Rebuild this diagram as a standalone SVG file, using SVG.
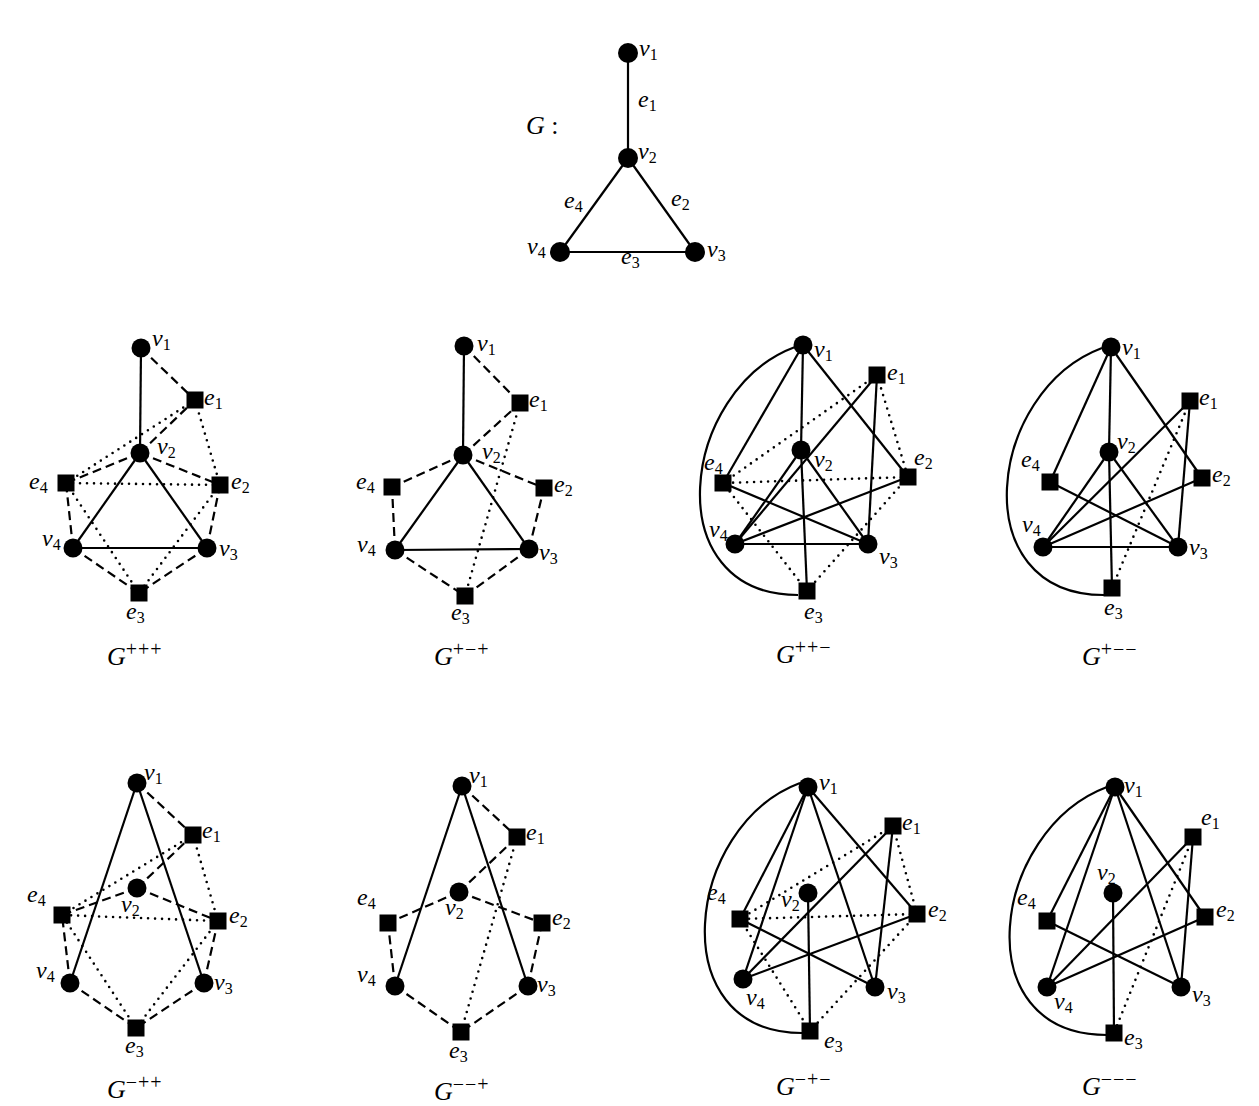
<svg xmlns="http://www.w3.org/2000/svg" width="1259" height="1106" viewBox="0 0 1259 1106">
<style>
text{font-family:"Liberation Serif","DejaVu Serif",serif;font-style:italic;fill:#000}
.lb{font-size:24px}
.sub{font-size:16px;font-style:normal}
.cap{font-size:26px}
.sup{font-size:20px;font-style:normal;letter-spacing:1px}
.s{stroke:#000;stroke-width:2.2;fill:none}
.d{stroke:#000;stroke-width:2.2;stroke-dasharray:9 5;fill:none}
.t{stroke:#000;stroke-width:2.6;stroke-dasharray:0 7;stroke-linecap:round;fill:none}
circle,rect{fill:#000}
</style>
<rect x="0" y="0" width="1259" height="1106" style="fill:#fff"/>

<g id="G-connectors">
<line class="s" x1="628" y1="53" x2="628" y2="158"/>
<line class="s" x1="628" y1="158" x2="695" y2="252"/>
<line class="s" x1="628" y1="158" x2="560" y2="252"/>
<line class="s" x1="560" y1="252" x2="695" y2="252"/>
</g>
<g id="G-title"><text class="cap" x="526" y="134">G <tspan font-style="normal">:</tspan></text></g>
<g id="G-edge-labels">
<text class="lb" x="638" y="107">e<tspan class="sub" dy="3.5">1</tspan></text>
<text class="lb" x="671" y="206">e<tspan class="sub" dy="3.5">2</tspan></text>
<text class="lb" x="621" y="264">e<tspan class="sub" dy="3.5">3</tspan></text>
<text class="lb" x="564" y="208">e<tspan class="sub" dy="3.5">4</tspan></text>
</g>
<g id="G-v1"><circle cx="628" cy="53" r="10"/><text class="lb" x="639" y="56">v<tspan class="sub" dy="3.5">1</tspan></text></g>
<g id="G-v2"><circle cx="628" cy="158" r="10"/><text class="lb" x="638" y="159">v<tspan class="sub" dy="3.5">2</tspan></text></g>
<g id="G-v3"><circle cx="695" cy="252" r="10"/><text class="lb" x="707" y="257">v<tspan class="sub" dy="3.5">3</tspan></text></g>
<g id="G-v4"><circle cx="560" cy="252" r="10"/><text class="lb" x="527" y="254">v<tspan class="sub" dy="3.5">4</tspan></text></g>

<g id="A1-connectors">
<line class="s" x1="141" y1="348" x2="140" y2="453"/>
<line class="s" x1="140" y1="453" x2="207" y2="548"/>
<line class="s" x1="140" y1="453" x2="73" y2="548"/>
<line class="s" x1="73" y1="548" x2="207" y2="548"/>
<line class="d" x1="141" y1="348" x2="195" y2="400"/>
<line class="d" x1="140" y1="453" x2="195" y2="400"/>
<line class="d" x1="140" y1="453" x2="220" y2="485"/>
<line class="d" x1="140" y1="453" x2="66" y2="483"/>
<line class="d" x1="207" y1="548" x2="220" y2="485"/>
<line class="d" x1="207" y1="548" x2="139" y2="593"/>
<line class="d" x1="73" y1="548" x2="139" y2="593"/>
<line class="d" x1="73" y1="548" x2="66" y2="483"/>
<line class="t" x1="195" y1="400" x2="220" y2="485"/>
<line class="t" x1="195" y1="400" x2="66" y2="483"/>
<line class="t" x1="220" y1="485" x2="66" y2="483"/>
<line class="t" x1="220" y1="485" x2="139" y2="593"/>
<line class="t" x1="139" y1="593" x2="66" y2="483"/>
</g>
<g id="A1-v1"><circle cx="141" cy="348" r="9.5"/><text class="lb" x="152" y="346">v<tspan class="sub" dy="3.5">1</tspan></text></g>
<g id="A1-v2"><circle cx="140" cy="453" r="9.5"/><text class="lb" x="157" y="454">v<tspan class="sub" dy="3.5">2</tspan></text></g>
<g id="A1-v3"><circle cx="207" cy="548" r="9.5"/><text class="lb" x="219" y="556">v<tspan class="sub" dy="3.5">3</tspan></text></g>
<g id="A1-v4"><circle cx="73" cy="548" r="9.5"/><text class="lb" x="42" y="546">v<tspan class="sub" dy="3.5">4</tspan></text></g>
<g id="A1-e1"><rect x="186.5" y="391.5" width="17" height="17"/><text class="lb" x="204" y="405">e<tspan class="sub" dy="3.5">1</tspan></text></g>
<g id="A1-e2"><rect x="211.5" y="476.5" width="17" height="17"/><text class="lb" x="231" y="489">e<tspan class="sub" dy="3.5">2</tspan></text></g>
<g id="A1-e3"><rect x="130.5" y="584.5" width="17" height="17"/><text class="lb" x="126" y="619">e<tspan class="sub" dy="3.5">3</tspan></text></g>
<g id="A1-e4"><rect x="57.5" y="474.5" width="17" height="17"/><text class="lb" x="29" y="489">e<tspan class="sub" dy="3.5">4</tspan></text></g>
<g id="A1-caption"><text class="cap" x="107" y="665">G<tspan class="sup" dy="-9">+++</tspan></text></g>

<g id="A2-connectors">
<line class="s" x1="464" y1="346" x2="463" y2="455"/>
<line class="s" x1="463" y1="455" x2="529" y2="549"/>
<line class="s" x1="463" y1="455" x2="395" y2="550"/>
<line class="s" x1="395" y1="550" x2="529" y2="549"/>
<line class="d" x1="464" y1="346" x2="520" y2="403"/>
<line class="d" x1="463" y1="455" x2="520" y2="403"/>
<line class="d" x1="463" y1="455" x2="544" y2="488"/>
<line class="d" x1="463" y1="455" x2="392" y2="487"/>
<line class="d" x1="529" y1="549" x2="544" y2="488"/>
<line class="d" x1="529" y1="549" x2="465" y2="596"/>
<line class="d" x1="395" y1="550" x2="465" y2="596"/>
<line class="d" x1="395" y1="550" x2="392" y2="487"/>
<line class="t" x1="520" y1="403" x2="465" y2="596"/>
</g>
<g id="A2-v1"><circle cx="464" cy="346" r="9.5"/><text class="lb" x="477" y="351">v<tspan class="sub" dy="3.5">1</tspan></text></g>
<g id="A2-v2"><circle cx="463" cy="455" r="9.5"/><text class="lb" x="482" y="459">v<tspan class="sub" dy="3.5">2</tspan></text></g>
<g id="A2-v3"><circle cx="529" cy="549" r="9.5"/><text class="lb" x="539" y="560">v<tspan class="sub" dy="3.5">3</tspan></text></g>
<g id="A2-v4"><circle cx="395" cy="550" r="9.5"/><text class="lb" x="357" y="552">v<tspan class="sub" dy="3.5">4</tspan></text></g>
<g id="A2-e1"><rect x="511.5" y="394.5" width="17" height="17"/><text class="lb" x="529" y="407">e<tspan class="sub" dy="3.5">1</tspan></text></g>
<g id="A2-e2"><rect x="535.5" y="479.5" width="17" height="17"/><text class="lb" x="554" y="492">e<tspan class="sub" dy="3.5">2</tspan></text></g>
<g id="A2-e3"><rect x="456.5" y="587.5" width="17" height="17"/><text class="lb" x="451" y="620">e<tspan class="sub" dy="3.5">3</tspan></text></g>
<g id="A2-e4"><rect x="383.5" y="478.5" width="17" height="17"/><text class="lb" x="356" y="489">e<tspan class="sub" dy="3.5">4</tspan></text></g>
<g id="A2-caption"><text class="cap" x="434" y="665">G<tspan class="sup" dy="-9">+−+</tspan></text></g>

<g id="A3-connectors">
<line class="s" x1="803" y1="345" x2="801" y2="450"/>
<line class="s" x1="801" y1="450" x2="868" y2="544"/>
<line class="s" x1="801" y1="450" x2="735" y2="544"/>
<line class="s" x1="735" y1="544" x2="868" y2="544"/>
<line class="s" x1="803" y1="345" x2="908" y2="477"/>
<line class="s" x1="803" y1="345" x2="723" y2="483"/>
<line class="s" x1="801" y1="450" x2="807" y2="591"/>
<line class="s" x1="868" y1="544" x2="877" y2="375"/>
<line class="s" x1="868" y1="544" x2="723" y2="483"/>
<line class="s" x1="735" y1="544" x2="877" y2="375"/>
<line class="s" x1="735" y1="544" x2="908" y2="477"/>
<path class="s" d="M795,347 C680,390 656,595 798,595"/>
<line class="t" x1="877" y1="375" x2="908" y2="477"/>
<line class="t" x1="877" y1="375" x2="723" y2="483"/>
<line class="t" x1="908" y1="477" x2="723" y2="483"/>
<line class="t" x1="908" y1="477" x2="807" y2="591"/>
<line class="t" x1="807" y1="591" x2="723" y2="483"/>
</g>
<g id="A3-v1"><circle cx="803" cy="345" r="9.5"/><text class="lb" x="814" y="357">v<tspan class="sub" dy="3.5">1</tspan></text></g>
<g id="A3-v2"><circle cx="801" cy="450" r="9.5"/><text class="lb" x="814" y="467">v<tspan class="sub" dy="3.5">2</tspan></text></g>
<g id="A3-v3"><circle cx="868" cy="544" r="9.5"/><text class="lb" x="879" y="564">v<tspan class="sub" dy="3.5">3</tspan></text></g>
<g id="A3-v4"><circle cx="735" cy="544" r="9.5"/><text class="lb" x="709" y="537">v<tspan class="sub" dy="3.5">4</tspan></text></g>
<g id="A3-e1"><rect x="868.5" y="366.5" width="17" height="17"/><text class="lb" x="887" y="380">e<tspan class="sub" dy="3.5">1</tspan></text></g>
<g id="A3-e2"><rect x="899.5" y="468.5" width="17" height="17"/><text class="lb" x="914" y="465">e<tspan class="sub" dy="3.5">2</tspan></text></g>
<g id="A3-e3"><rect x="798.5" y="582.5" width="17" height="17"/><text class="lb" x="804" y="619">e<tspan class="sub" dy="3.5">3</tspan></text></g>
<g id="A3-e4"><rect x="714.5" y="474.5" width="17" height="17"/><text class="lb" x="704" y="470">e<tspan class="sub" dy="3.5">4</tspan></text></g>
<g id="A3-caption"><text class="cap" x="776" y="663">G<tspan class="sup" dy="-9">++−</tspan></text></g>

<g id="A4-connectors">
<line class="s" x1="1111" y1="347" x2="1109" y2="452"/>
<line class="s" x1="1109" y1="452" x2="1178" y2="547"/>
<line class="s" x1="1109" y1="452" x2="1043" y2="547"/>
<line class="s" x1="1043" y1="547" x2="1178" y2="547"/>
<line class="s" x1="1111" y1="347" x2="1202" y2="478"/>
<line class="s" x1="1111" y1="347" x2="1050" y2="482"/>
<line class="s" x1="1109" y1="452" x2="1112" y2="588"/>
<line class="s" x1="1178" y1="547" x2="1190" y2="401"/>
<line class="s" x1="1178" y1="547" x2="1050" y2="482"/>
<line class="s" x1="1043" y1="547" x2="1190" y2="401"/>
<line class="s" x1="1043" y1="547" x2="1202" y2="478"/>
<path class="s" d="M1102,348 C987,391 963,595 1104,595"/>
<line class="t" x1="1190" y1="401" x2="1112" y2="588"/>
</g>
<g id="A4-v1"><circle cx="1111" cy="347" r="9.5"/><text class="lb" x="1122" y="355">v<tspan class="sub" dy="3.5">1</tspan></text></g>
<g id="A4-v2"><circle cx="1109" cy="452" r="9.5"/><text class="lb" x="1117" y="449">v<tspan class="sub" dy="3.5">2</tspan></text></g>
<g id="A4-v3"><circle cx="1178" cy="547" r="9.5"/><text class="lb" x="1189" y="555">v<tspan class="sub" dy="3.5">3</tspan></text></g>
<g id="A4-v4"><circle cx="1043" cy="547" r="9.5"/><text class="lb" x="1022" y="532">v<tspan class="sub" dy="3.5">4</tspan></text></g>
<g id="A4-e1"><rect x="1181.5" y="392.5" width="17" height="17"/><text class="lb" x="1199" y="405">e<tspan class="sub" dy="3.5">1</tspan></text></g>
<g id="A4-e2"><rect x="1193.5" y="469.5" width="17" height="17"/><text class="lb" x="1212" y="482">e<tspan class="sub" dy="3.5">2</tspan></text></g>
<g id="A4-e3"><rect x="1103.5" y="579.5" width="17" height="17"/><text class="lb" x="1104" y="615">e<tspan class="sub" dy="3.5">3</tspan></text></g>
<g id="A4-e4"><rect x="1041.5" y="473.5" width="17" height="17"/><text class="lb" x="1021" y="467">e<tspan class="sub" dy="3.5">4</tspan></text></g>
<g id="A4-caption"><text class="cap" x="1082" y="665">G<tspan class="sup" dy="-9">+−−</tspan></text></g>

<g id="B1-connectors">
<line class="s" x1="137" y1="783" x2="204" y2="983"/>
<line class="s" x1="137" y1="783" x2="70" y2="983"/>
<line class="d" x1="137" y1="783" x2="193" y2="835"/>
<line class="d" x1="137" y1="888" x2="193" y2="835"/>
<line class="d" x1="137" y1="888" x2="218" y2="921"/>
<line class="d" x1="137" y1="888" x2="62" y2="915"/>
<line class="d" x1="204" y1="983" x2="218" y2="921"/>
<line class="d" x1="204" y1="983" x2="136" y2="1028"/>
<line class="d" x1="70" y1="983" x2="136" y2="1028"/>
<line class="d" x1="70" y1="983" x2="62" y2="915"/>
<line class="t" x1="193" y1="835" x2="218" y2="921"/>
<line class="t" x1="193" y1="835" x2="62" y2="915"/>
<line class="t" x1="218" y1="921" x2="62" y2="915"/>
<line class="t" x1="218" y1="921" x2="136" y2="1028"/>
<line class="t" x1="136" y1="1028" x2="62" y2="915"/>
</g>
<g id="B1-v1"><circle cx="137" cy="783" r="9.5"/><text class="lb" x="144" y="780">v<tspan class="sub" dy="3.5">1</tspan></text></g>
<g id="B1-v2"><circle cx="137" cy="888" r="9.5"/><text class="lb" x="121" y="912">v<tspan class="sub" dy="3.5">2</tspan></text></g>
<g id="B1-v3"><circle cx="204" cy="983" r="9.5"/><text class="lb" x="214" y="990">v<tspan class="sub" dy="3.5">3</tspan></text></g>
<g id="B1-v4"><circle cx="70" cy="983" r="9.5"/><text class="lb" x="36" y="978">v<tspan class="sub" dy="3.5">4</tspan></text></g>
<g id="B1-e1"><rect x="184.5" y="826.5" width="17" height="17"/><text class="lb" x="202" y="838">e<tspan class="sub" dy="3.5">1</tspan></text></g>
<g id="B1-e2"><rect x="209.5" y="912.5" width="17" height="17"/><text class="lb" x="229" y="923">e<tspan class="sub" dy="3.5">2</tspan></text></g>
<g id="B1-e3"><rect x="127.5" y="1019.5" width="17" height="17"/><text class="lb" x="125" y="1053">e<tspan class="sub" dy="3.5">3</tspan></text></g>
<g id="B1-e4"><rect x="53.5" y="906.5" width="17" height="17"/><text class="lb" x="27" y="902">e<tspan class="sub" dy="3.5">4</tspan></text></g>
<g id="B1-caption"><text class="cap" x="107" y="1098">G<tspan class="sup" dy="-9">−++</tspan></text></g>

<g id="B2-connectors">
<line class="s" x1="462" y1="786" x2="528" y2="986"/>
<line class="s" x1="462" y1="786" x2="395" y2="986"/>
<line class="d" x1="462" y1="786" x2="517" y2="837"/>
<line class="d" x1="459" y1="892" x2="517" y2="837"/>
<line class="d" x1="459" y1="892" x2="542" y2="923"/>
<line class="d" x1="459" y1="892" x2="388" y2="923"/>
<line class="d" x1="528" y1="986" x2="542" y2="923"/>
<line class="d" x1="528" y1="986" x2="461" y2="1032"/>
<line class="d" x1="395" y1="986" x2="461" y2="1032"/>
<line class="d" x1="395" y1="986" x2="388" y2="923"/>
<line class="t" x1="517" y1="837" x2="461" y2="1032"/>
</g>
<g id="B2-v1"><circle cx="462" cy="786" r="9.5"/><text class="lb" x="469" y="783">v<tspan class="sub" dy="3.5">1</tspan></text></g>
<g id="B2-v2"><circle cx="459" cy="892" r="9.5"/><text class="lb" x="445" y="915">v<tspan class="sub" dy="3.5">2</tspan></text></g>
<g id="B2-v3"><circle cx="528" cy="986" r="9.5"/><text class="lb" x="537" y="992">v<tspan class="sub" dy="3.5">3</tspan></text></g>
<g id="B2-v4"><circle cx="395" cy="986" r="9.5"/><text class="lb" x="357" y="982">v<tspan class="sub" dy="3.5">4</tspan></text></g>
<g id="B2-e1"><rect x="508.5" y="828.5" width="17" height="17"/><text class="lb" x="526" y="840">e<tspan class="sub" dy="3.5">1</tspan></text></g>
<g id="B2-e2"><rect x="533.5" y="914.5" width="17" height="17"/><text class="lb" x="552" y="925">e<tspan class="sub" dy="3.5">2</tspan></text></g>
<g id="B2-e3"><rect x="452.5" y="1023.5" width="17" height="17"/><text class="lb" x="449" y="1058">e<tspan class="sub" dy="3.5">3</tspan></text></g>
<g id="B2-e4"><rect x="379.5" y="914.5" width="17" height="17"/><text class="lb" x="357" y="905">e<tspan class="sub" dy="3.5">4</tspan></text></g>
<g id="B2-caption"><text class="cap" x="434" y="1100">G<tspan class="sup" dy="-9">−−+</tspan></text></g>

<g id="B3-connectors">
<line class="s" x1="808" y1="787" x2="875" y2="987"/>
<line class="s" x1="808" y1="787" x2="743" y2="979"/>
<line class="s" x1="808" y1="787" x2="917" y2="914"/>
<line class="s" x1="808" y1="787" x2="740" y2="919"/>
<line class="s" x1="808" y1="893" x2="810" y2="1031"/>
<line class="s" x1="875" y1="987" x2="893" y2="826"/>
<line class="s" x1="875" y1="987" x2="740" y2="919"/>
<line class="s" x1="743" y1="979" x2="893" y2="826"/>
<line class="s" x1="743" y1="979" x2="917" y2="914"/>
<path class="s" d="M800,783 C685,826 661,1033 802,1033"/>
<line class="t" x1="893" y1="826" x2="917" y2="914"/>
<line class="t" x1="893" y1="826" x2="740" y2="919"/>
<line class="t" x1="917" y1="914" x2="740" y2="919"/>
<line class="t" x1="917" y1="914" x2="810" y2="1031"/>
<line class="t" x1="810" y1="1031" x2="740" y2="919"/>
</g>
<g id="B3-v1"><circle cx="808" cy="787" r="9.5"/><text class="lb" x="819" y="790">v<tspan class="sub" dy="3.5">1</tspan></text></g>
<g id="B3-v2"><circle cx="808" cy="893" r="9.5"/><text class="lb" x="781" y="907">v<tspan class="sub" dy="3.5">2</tspan></text></g>
<g id="B3-v3"><circle cx="875" cy="987" r="9.5"/><text class="lb" x="887" y="999">v<tspan class="sub" dy="3.5">3</tspan></text></g>
<g id="B3-v4"><circle cx="743" cy="979" r="9.5"/><text class="lb" x="746" y="1005">v<tspan class="sub" dy="3.5">4</tspan></text></g>
<g id="B3-e1"><rect x="884.5" y="817.5" width="17" height="17"/><text class="lb" x="902" y="830">e<tspan class="sub" dy="3.5">1</tspan></text></g>
<g id="B3-e2"><rect x="908.5" y="905.5" width="17" height="17"/><text class="lb" x="928" y="917">e<tspan class="sub" dy="3.5">2</tspan></text></g>
<g id="B3-e3"><rect x="801.5" y="1022.5" width="17" height="17"/><text class="lb" x="824" y="1048">e<tspan class="sub" dy="3.5">3</tspan></text></g>
<g id="B3-e4"><rect x="731.5" y="910.5" width="17" height="17"/><text class="lb" x="707" y="900">e<tspan class="sub" dy="3.5">4</tspan></text></g>
<g id="B3-caption"><text class="cap" x="776" y="1095">G<tspan class="sup" dy="-9">−+−</tspan></text></g>

<g id="B4-connectors">
<line class="s" x1="1115" y1="787" x2="1181" y2="987"/>
<line class="s" x1="1115" y1="787" x2="1047" y2="987"/>
<line class="s" x1="1115" y1="787" x2="1205" y2="917"/>
<line class="s" x1="1115" y1="787" x2="1047" y2="921"/>
<line class="s" x1="1113" y1="893" x2="1114" y2="1033"/>
<line class="s" x1="1181" y1="987" x2="1193" y2="837"/>
<line class="s" x1="1181" y1="987" x2="1047" y2="921"/>
<line class="s" x1="1047" y1="987" x2="1193" y2="837"/>
<line class="s" x1="1047" y1="987" x2="1205" y2="917"/>
<path class="s" d="M1107,787 C992,830 963,1035 1107,1035"/>
<line class="t" x1="1193" y1="837" x2="1114" y2="1033"/>
</g>
<g id="B4-v1"><circle cx="1115" cy="787" r="9.5"/><text class="lb" x="1124" y="793">v<tspan class="sub" dy="3.5">1</tspan></text></g>
<g id="B4-v2"><circle cx="1113" cy="893" r="9.5"/><text class="lb" x="1097" y="880">v<tspan class="sub" dy="3.5">2</tspan></text></g>
<g id="B4-v3"><circle cx="1181" cy="987" r="9.5"/><text class="lb" x="1192" y="1002">v<tspan class="sub" dy="3.5">3</tspan></text></g>
<g id="B4-v4"><circle cx="1047" cy="987" r="9.5"/><text class="lb" x="1054" y="1009">v<tspan class="sub" dy="3.5">4</tspan></text></g>
<g id="B4-e1"><rect x="1184.5" y="828.5" width="17" height="17"/><text class="lb" x="1201" y="825">e<tspan class="sub" dy="3.5">1</tspan></text></g>
<g id="B4-e2"><rect x="1196.5" y="908.5" width="17" height="17"/><text class="lb" x="1216" y="917">e<tspan class="sub" dy="3.5">2</tspan></text></g>
<g id="B4-e3"><rect x="1105.5" y="1024.5" width="17" height="17"/><text class="lb" x="1124" y="1045">e<tspan class="sub" dy="3.5">3</tspan></text></g>
<g id="B4-e4"><rect x="1038.5" y="912.5" width="17" height="17"/><text class="lb" x="1017" y="905">e<tspan class="sub" dy="3.5">4</tspan></text></g>
<g id="B4-caption"><text class="cap" x="1082" y="1095">G<tspan class="sup" dy="-9">−−−</tspan></text></g>
</svg>
